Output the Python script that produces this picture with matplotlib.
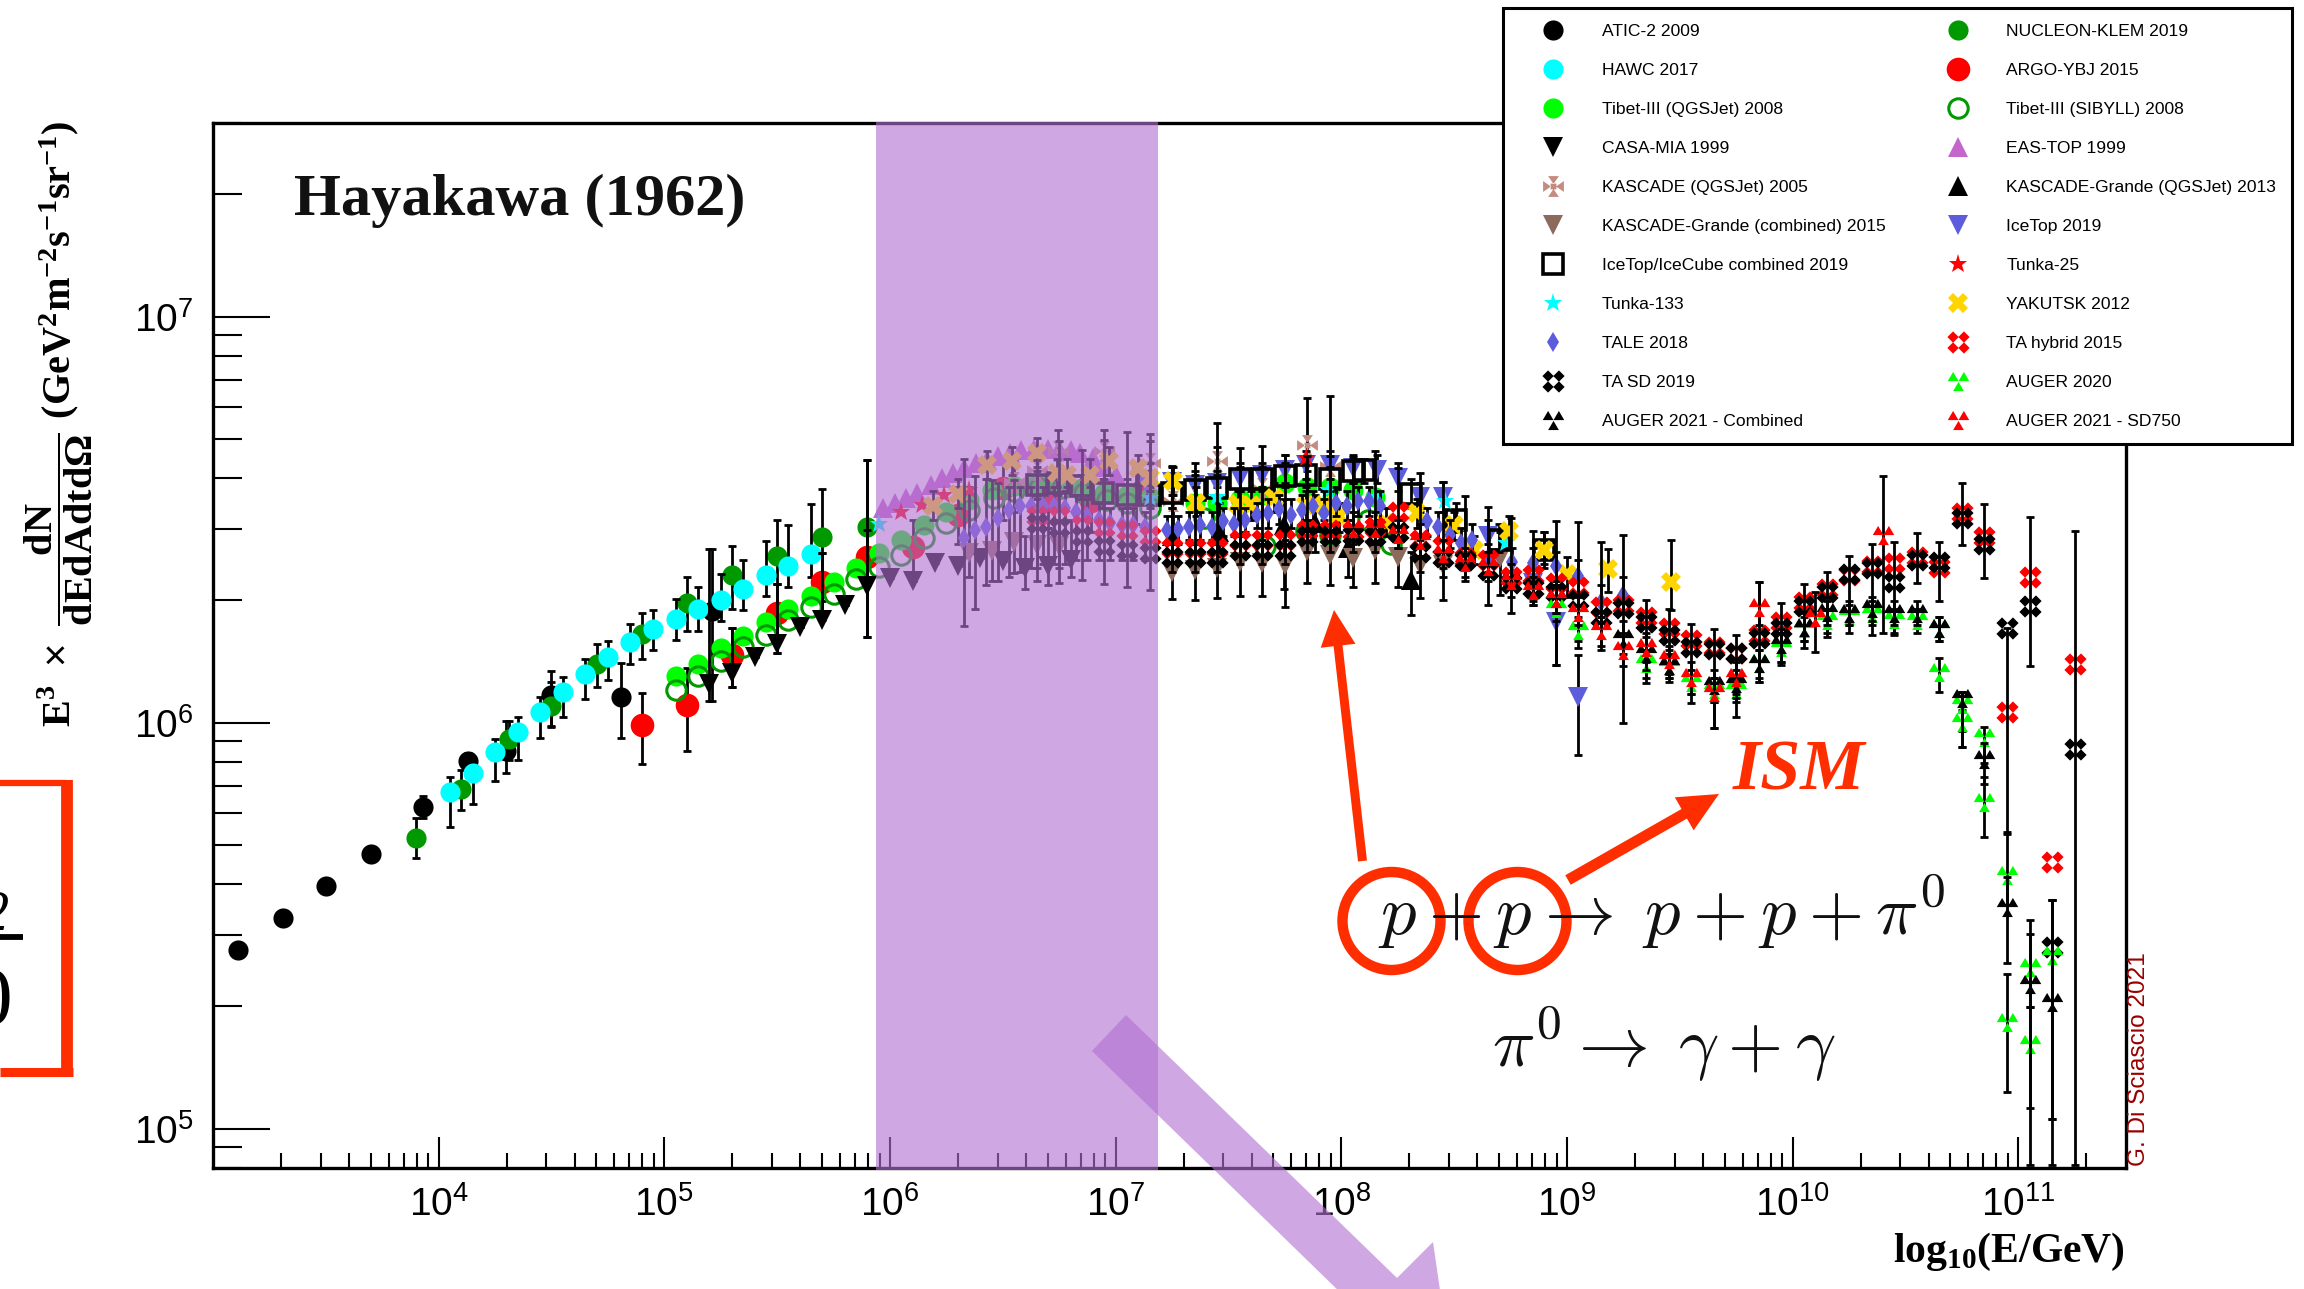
import numpy as np
import matplotlib
matplotlib.use("Agg")
import matplotlib.pyplot as plt
from matplotlib.path import Path
from matplotlib.patches import Rectangle, Ellipse, Polygon, FancyArrow
from matplotlib.ticker import FixedLocator, LogFormatterMathtext, NullFormatter

plt.rcParams['font.family'] = ['Liberation Sans', 'DejaVu Sans']
plt.rcParams['mathtext.fontset'] = 'custom'
plt.rcParams['mathtext.rm'] = 'Liberation Sans'
plt.rcParams['mathtext.it'] = 'Liberation Sans:italic'
plt.rcParams['mathtext.bf'] = 'Liberation Serif:bold'

# ---------- data: log10(E/GeV), log10(flux), log10(lower), log10(upper) ----------
atic_E = [3.11, 3.31, 3.50, 3.70, 3.93, 4.13, 4.30, 4.50, 4.81, 5.21]
atic_F = [5.439, 5.519, 5.598, 5.677, 5.793, 5.906, 5.931, 6.068, 6.063, 6.276]
atic_lo = [5.439, 5.519, 5.598, 5.677, 5.766, 5.89, 5.877, 5.993, 5.962, 6.054]
atic_hi = [5.439, 5.519, 5.598, 5.677, 5.82, 5.925, 6.005, 6.127, 6.146, 6.427]

nucleon_E = [3.90, 4.10, 4.31, 4.50, 4.70, 4.90, 5.10, 5.30, 5.50, 5.70, 5.90]
nucleon_F = [5.717, 5.837, 5.96, 6.042, 6.144, 6.219, 6.296, 6.363, 6.41, 6.457, 6.481]
nucleon_lo = [5.667, 5.785, 5.907, 5.99, 6.087, 6.158, 6.226, 6.28, 6.342, 6.299, 6.21]
nucleon_hi = [5.764, 5.884, 6.005, 6.10, 6.193, 6.271, 6.359, 6.436, 6.499, 6.575, 6.647]

hawc_E = [4.05, 4.15, 4.25, 4.35, 4.45, 4.55, 4.65, 4.75, 4.85, 4.95, 5.05, 5.15, 5.25, 5.35, 5.45, 5.55, 5.65]
hawc_F = [5.83, 5.877, 5.928, 5.977, 6.027, 6.076, 6.119, 6.161, 6.199, 6.231, 6.255, 6.279, 6.302, 6.33, 6.363, 6.387, 6.415]
hawc_lo = [5.743, 5.799, 5.856, 5.908, 5.962, 6.014, 6.059, 6.104, 6.144, 6.178, 6.203, 6.227, 6.25, 6.278, 6.311, 6.335, 6.36]
hawc_hi = [5.865, 5.91, 5.96, 6.013, 6.063, 6.113, 6.156, 6.202, 6.243, 6.278, 6.304, 6.335, 6.365, 6.401, 6.447, 6.486, 6.538]

argo_E = [4.90, 5.10, 5.30, 5.50, 5.70, 5.90, 6.10, 6.30, 6.50, 6.70, 6.89, 7.09]
argo_F = [5.995, 6.044, 6.167, 6.271, 6.347, 6.408, 6.432, 6.512, 6.578, 6.55, 6.545, 6.561]
argo_lo = [5.898, 5.931, 6.087, 6.172, 6.266, 6.34, 6.36, 6.44, 6.5, 6.48, 6.47, 6.49]
argo_hi = [6.073, 6.134, 6.233, 6.342, 6.419, 6.474, 6.50, 6.58, 6.64, 6.61, 6.62, 6.63]

tibq_E = [5.05, 5.15, 5.25, 5.35, 5.45, 5.55, 5.65, 5.75, 5.85, 5.95, 6.05, 6.15, 6.25, 6.35, 6.45, 6.55, 6.65, 6.75, 6.85, 6.95, 7.05, 7.15, 7.35, 7.45, 7.55, 7.65, 7.75, 7.85, 7.95, 8.05, 8.15]
tibq_F = [6.115, 6.145, 6.184, 6.214, 6.247, 6.279, 6.313, 6.346, 6.382, 6.417, 6.45, 6.487, 6.52, 6.549, 6.574, 6.584, 6.59, 6.59, 6.578, 6.566, 6.561, 6.557, 6.54, 6.54, 6.55, 6.56, 6.59, 6.58, 6.58, 6.574, 6.557]

tibs_E = [5.05, 5.15, 5.25, 5.35, 5.45, 5.55, 5.65, 5.75, 5.85, 5.95, 6.05, 6.15, 6.25, 6.35, 6.46, 6.55, 6.66, 6.76, 6.86, 6.96, 7.05, 7.15, 7.39, 7.66, 7.845, 7.95, 8.12, 8.22]
tibs_F = [6.08, 6.115, 6.151, 6.186, 6.217, 6.252, 6.285, 6.318, 6.353, 6.384, 6.413, 6.455, 6.492, 6.524, 6.553, 6.57, 6.578, 6.578, 6.566, 6.549, 6.54, 6.53, 6.504, 6.434, 6.471, 6.463, 6.5, 6.44]

casa_E = [5.20, 5.30, 5.40, 5.50, 5.60, 5.70, 5.80, 5.90, 6.00, 6.10, 6.20, 6.30, 6.40, 6.50, 6.60, 6.70, 6.80]
casa_F = [6.095, 6.122, 6.162, 6.195, 6.235, 6.254, 6.29, 6.337, 6.356, 6.35, 6.393, 6.386, 6.405, 6.399, 6.381, 6.385, 6.401]
casa_lo = [6.054, 6.087, 6.162, 6.172, 6.235, 6.254, 6.29, 6.21, 6.356, 6.35, 6.393, 6.386, 6.405, 6.399, 6.33, 6.34, 6.36]
casa_hi = [6.427, 6.233, 6.162, 6.342, 6.235, 6.419, 6.29, 6.647, 6.356, 6.35, 6.393, 6.386, 6.405, 6.399, 6.46, 6.48, 6.50]

eas_E = [5.97, 6.02, 6.07, 6.12, 6.18, 6.23, 6.28, 6.33, 6.38, 6.43, 6.48, 6.53, 6.58, 6.64, 6.70, 6.75, 6.80, 6.84, 6.90, 6.95, 7.00]
eas_F = [6.529, 6.541, 6.553, 6.566, 6.586, 6.603, 6.615, 6.627, 6.64, 6.648, 6.656, 6.664, 6.671, 6.675, 6.675, 6.675, 6.671, 6.664, 6.652, 6.631, 6.611]

kas_E = [6.55, 6.65, 6.745, 6.95, 7.15, 7.255, 7.45, 7.65, 7.85, 7.95]
kas_F = [6.594, 6.623, 6.668, 6.668, 6.64, 6.547, 6.645, 6.578, 6.685, 6.633]
kas_lo = [6.52, 6.55, 6.60, 6.60, 6.58, 6.47, 6.58, 6.52, 6.62, 6.57]
kas_hi = [6.65, 6.68, 6.72, 6.72, 6.71, 6.60, 6.738, 6.63, 6.80, 6.804]

kgq_E = [7.25, 7.46, 7.745, 7.885, 8.03, 8.31]
kgq_F = [6.46, 6.469, 6.487, 6.492, 6.43, 6.352]
kgq_lo = [6.38, 6.40, 6.33, 6.42, 6.36, 6.266]
kgq_hi = [6.53, 6.54, 6.55, 6.56, 6.50, 6.42]

kgc_E = [6.35, 6.45, 6.55, 6.65, 6.75, 7.25, 7.35, 7.45, 7.55, 7.65, 7.75, 7.85, 7.95, 8.05, 8.15, 8.25, 8.35, 8.45, 8.705]
kgc_F = [6.418, 6.422, 6.446, 6.438, 6.436, 6.372, 6.377, 6.381, 6.397, 6.393, 6.389, 6.422, 6.413, 6.405, 6.426, 6.409, 6.389, 6.389, 6.405]
kgc_lo = [6.36, 6.348, 6.368, 6.38, 6.38, 6.304, 6.303, 6.307, 6.311, 6.311, 6.286, 6.344, 6.34, 6.335, 6.344, 6.335, 6.307, 6.303, 6.315]
kgc_hi = [6.58, 6.598, 6.598, 6.50, 6.50, 6.44, 6.44, 6.44, 6.46, 6.45, 6.45, 6.48, 6.47, 6.46, 6.49, 6.47, 6.45, 6.45, 6.47]

ice_E = [7.14, 7.25, 7.35, 7.45, 7.55, 7.65, 7.75, 7.845, 7.95, 8.05, 8.157, 8.25, 8.35, 8.45, 8.65, 8.85, 8.95, 9.05]
ice_F = [6.585, 6.594, 6.586, 6.59, 6.603, 6.611, 6.623, 6.635, 6.635, 6.627, 6.623, 6.603, 6.557, 6.557, 6.459, 6.343, 6.249, 6.064]
ice_lo = [6.55, 6.56, 6.55, 6.56, 6.57, 6.58, 6.59, 6.60, 6.60, 6.59, 6.59, 6.57, 6.52, 6.52, 6.42, 6.30, 6.142, 5.92]
ice_hi = [6.62, 6.63, 6.62, 6.62, 6.64, 6.64, 6.66, 6.67, 6.67, 6.66, 6.66, 6.64, 6.59, 6.594, 6.50, 6.38, 6.35, 6.167]

icc_E = [6.65, 6.745, 6.845, 6.945, 7.05, 7.15, 7.25, 7.35, 7.45, 7.55, 7.65, 7.75, 7.845, 7.95, 8.05, 8.10, 8.31, 8.51, 8.70, 8.90]
icc_F = [6.586, 6.59, 6.582, 6.565, 6.561, 6.56, 6.565, 6.574, 6.578, 6.60, 6.60, 6.607, 6.61, 6.60, 6.619, 6.623, 6.564, 6.50, 6.45, 6.426]
icc_lo = [6.56, 6.56, 6.55, 6.53, 6.53, 6.53, 6.53, 6.54, 6.55, 6.57, 6.57, 6.58, 6.58, 6.57, 6.59, 6.59, 6.53, 6.47, 6.42, 6.39]
icc_hi = [6.62, 6.62, 6.61, 6.60, 6.60, 6.59, 6.60, 6.61, 6.61, 6.63, 6.63, 6.64, 6.64, 6.63, 6.65, 6.65, 6.60, 6.54, 6.49, 6.47]

t25_E = [6.05, 6.14, 6.24, 6.35, 7.845]
t25_F = [6.52, 6.537, 6.561, 6.574, 6.652]

t133_E = [5.95, 7.15, 7.45, 7.94, 8.15, 8.46, 8.73]
t133_F = [6.489, 6.553, 6.556, 6.572, 6.556, 6.545, 6.442]

yak_E = [6.19, 6.30, 6.43, 6.54, 6.65, 6.74, 6.785, 6.885, 6.97, 7.10, 7.15, 7.255, 7.355, 7.54, 7.60, 7.70, 7.845, 7.925, 7.99, 8.20, 8.335, 8.50, 8.59, 8.745, 8.90, 9.00, 9.18, 9.46]
yak_F = [6.534, 6.564, 6.635, 6.644, 6.664, 6.615, 6.611, 6.611, 6.644, 6.627, 6.603, 6.596, 6.541, 6.539, 6.537, 6.553, 6.537, 6.537, 6.508, 6.492, 6.516, 6.487, 6.426, 6.471, 6.426, 6.366, 6.379, 6.347]
yak_lo = [6.50, 6.53, 6.60, 6.61, 6.63, 6.58, 6.58, 6.58, 6.61, 6.59, 6.57, 6.56, 6.51, 6.50, 6.50, 6.52, 6.50, 6.50, 6.47, 6.46, 6.48, 6.45, 6.39, 6.43, 6.38, 6.31, 6.323, 6.278]
yak_hi = [6.57, 6.60, 6.67, 6.68, 6.70, 6.65, 6.65, 6.65, 6.68, 6.66, 6.64, 6.63, 6.58, 6.57, 6.57, 6.59, 6.57, 6.57, 6.54, 6.53, 6.55, 6.52, 6.46, 6.51, 6.47, 6.409, 6.427, 6.45]

tale_E = [6.326, 6.375, 6.427, 6.478, 6.528, 6.577, 6.627, 6.677, 6.727, 6.776, 6.825, 6.875, 6.925, 6.974, 7.027, 7.078, 7.13, 7.226, 7.276, 7.325, 7.375, 7.425, 7.474, 7.524, 7.575, 7.626, 7.676, 7.726, 7.775, 7.825, 7.875, 7.925, 7.975, 8.024, 8.073, 8.123, 8.173, 8.38, 8.43, 8.48, 8.53, 8.58, 8.65, 8.755, 8.85, 8.95, 9.05, 9.15, 9.25]
tale_F = [6.455, 6.474, 6.483, 6.504, 6.524, 6.533, 6.533, 6.533, 6.533, 6.529, 6.52, 6.508, 6.5, 6.492, 6.487, 6.487, 6.483, 6.474, 6.477, 6.482, 6.487, 6.482, 6.496, 6.49, 6.5, 6.512, 6.516, 6.526, 6.512, 6.523, 6.533, 6.516, 6.541, 6.533, 6.545, 6.545, 6.533, 6.496, 6.483, 6.463, 6.442, 6.45, 6.405, 6.397, 6.394, 6.386, 6.361, 6.298, 6.314]
tale_lo = [6.237, 6.28, 6.34, 6.35, 6.36, 6.37, 6.38, 6.39, 6.39, 6.39, 6.40, 6.40, 6.40, 6.40, 6.40, 6.40, 6.40, 6.44, 6.44, 6.45, 6.45, 6.45, 6.46, 6.46, 6.47, 6.48, 6.48, 6.49, 6.48, 6.49, 6.50, 6.48, 6.51, 6.50, 6.51, 6.51, 6.50, 6.46, 6.45, 6.43, 6.41, 6.41, 6.37, 6.36, 6.36, 6.35, 6.32, 6.26, 6.27]
tale_hi = [6.649, 6.607, 6.60, 6.59, 6.58, 6.58, 6.58, 6.58, 6.58, 6.57, 6.56, 6.55, 6.54, 6.53, 6.53, 6.53, 6.52, 6.51, 6.51, 6.52, 6.52, 6.52, 6.53, 6.53, 6.53, 6.54, 6.55, 6.56, 6.55, 6.56, 6.57, 6.55, 6.58, 6.57, 6.58, 6.58, 6.57, 6.53, 6.52, 6.50, 6.48, 6.49, 6.44, 6.43, 6.43, 6.42, 6.40, 6.34, 6.36]

tah_E = [6.65, 6.75, 6.85, 6.95, 7.05, 7.15, 7.25, 7.35, 7.45, 7.55, 7.65, 7.75, 7.85, 7.95, 8.05, 8.15, 8.25, 8.35, 8.45, 8.55, 8.65, 8.75, 8.85, 8.95, 9.05, 9.15, 9.25, 9.35, 9.45, 9.55, 9.65, 9.75, 9.85, 9.95, 10.05, 10.15, 10.25, 10.35, 10.45, 10.55, 10.65, 10.75, 10.85, 10.95, 11.05, 11.15, 11.25]
tah_F = [6.508, 6.508, 6.487, 6.483, 6.475, 6.459, 6.43, 6.43, 6.43, 6.45, 6.45, 6.45, 6.475, 6.475, 6.471, 6.483, 6.52, 6.45, 6.434, 6.405, 6.401, 6.36, 6.364, 6.343, 6.335, 6.286, 6.29, 6.261, 6.232, 6.204, 6.187, 6.171, 6.216, 6.249, 6.298, 6.33, 6.364, 6.387, 6.393, 6.407, 6.384, 6.516, 6.457, 6.027, 6.36, 5.657, 6.144]

tas_E = [6.65, 6.75, 6.85, 6.95, 7.05, 7.15, 7.25, 7.35, 7.45, 7.55, 7.65, 7.75, 7.85, 7.95, 8.05, 8.15, 8.25, 8.35, 8.45, 8.55, 8.65, 8.75, 8.85, 8.95, 9.05, 9.15, 9.25, 9.35, 9.45, 9.55, 9.65, 9.75, 9.85, 9.95, 10.05, 10.15, 10.25, 10.35, 10.45, 10.55, 10.65, 10.75, 10.85, 10.95, 11.05, 11.15, 11.25]
tas_F = [6.492, 6.483, 6.459, 6.434, 6.426, 6.418, 6.409, 6.409, 6.409, 6.426, 6.426, 6.426, 6.459, 6.459, 6.463, 6.459, 6.47, 6.42, 6.409, 6.401, 6.377, 6.344, 6.331, 6.323, 6.302, 6.261, 6.282, 6.249, 6.216, 6.187, 6.181, 6.171, 6.208, 6.232, 6.288, 6.323, 6.366, 6.382, 6.347, 6.401, 6.397, 6.505, 6.44, 6.234, 6.288, 5.447, 5.936]
tas_lo = [6.348, 6.344, 6.352, 6.342, 6.335, 6.326, 6.37, 6.37, 6.37, 6.39, 6.39, 6.39, 6.42, 6.42, 6.42, 6.42, 6.43, 6.37, 6.36, 6.35, 6.29, 6.27, 6.29, 6.142, 6.183, 6.179, 6.0, 6.097, 6.11, 6.049, 5.986, 6.015, 6.101, 6.142, 6.183, 6.212, 6.22, 6.216, 6.216, 6.343, 6.30, 6.438, 6.356, 5.727, 6.139, 5.024, 4.91]
tas_hi = [6.648, 6.693, 6.672, 6.697, 6.715, 6.695, 6.633, 6.64, 6.68, 6.677, 6.682, 6.66, 6.656, 6.656, 6.654, 6.668, 6.627, 6.615, 6.594, 6.559, 6.531, 6.504, 6.471, 6.498, 6.495, 6.444, 6.462, 6.302, 6.279, 6.243, 6.23, 6.216, 6.346, 6.294, 6.342, 6.37, 6.411, 6.44, 6.444, 6.467, 6.444, 6.591, 6.538, 6.234, 6.506, 5.562, 6.471]

aug20_E = [8.95, 9.05, 9.35, 9.45, 9.55, 9.65, 9.75, 9.85, 9.95, 10.05, 10.15, 10.25, 10.35, 10.45, 10.55, 10.65, 10.65, 10.75, 10.75, 10.85, 10.85, 10.95, 10.95, 11.05, 11.05, 11.15]
aug20_F = [6.282, 6.228, 6.146, 6.14, 6.1, 6.084, 6.084, 6.146, 6.187, 6.232, 6.253, 6.265, 6.27, 6.255, 6.253, 6.232, 6.126, 6.047, 6.002, 5.965, 5.805, 5.624, 5.262, 5.398, 5.209, 5.427]
aug20_lo = [6.25, 6.20, 6.11, 6.11, 6.07, 6.05, 6.05, 6.11, 6.15, 6.20, 6.22, 6.24, 6.24, 6.22, 6.22, 6.20, 6.076, 5.98, 5.941, 5.90, 5.718, 5.55, 5.09, 5.30, 4.91, 4.91]
aug20_hi = [6.31, 6.26, 6.18, 6.17, 6.13, 6.11, 6.11, 6.18, 6.22, 6.26, 6.28, 6.29, 6.30, 6.28, 6.28, 6.26, 6.16, 6.076, 6.03, 5.99, 5.866, 5.73, 5.381, 5.48, 5.30, 5.562]

aug21_E = [8.95, 9.25, 9.35, 9.45, 9.65, 9.75, 9.85, 9.95, 10.05, 10.15, 10.25, 10.35, 10.45, 10.55, 10.65, 10.75, 10.85, 10.95, 11.05, 11.15]
aug21_F = [6.306, 6.208, 6.171, 6.142, 6.093, 6.097, 6.146, 6.195, 6.235, 6.273, 6.271, 6.282, 6.269, 6.269, 6.232, 6.062, 5.911, 5.546, 5.357, 5.312]
aug21_lo = [6.27, 6.17, 6.13, 6.10, 6.05, 6.06, 6.10, 6.15, 6.20, 6.24, 6.24, 6.25, 6.24, 6.24, 6.20, 5.941, 5.85, 5.408, 5.05, 5.024]
aug21_hi = [6.34, 6.25, 6.21, 6.18, 6.13, 6.13, 6.18, 6.23, 6.27, 6.30, 6.30, 6.31, 6.30, 6.30, 6.26, 6.076, 5.95, 5.62, 5.514, 5.562]

sd750_E = [8.05, 8.15, 8.25, 8.35, 8.45, 8.55, 8.65, 8.75, 8.85, 8.95, 9.05, 9.15, 9.25, 9.35, 9.45, 9.55, 9.65, 9.75, 9.85, 10.10, 10.40]
sd750_F = [6.48, 6.48, 6.465, 6.45, 6.418, 6.397, 6.385, 6.351, 6.327, 6.306, 6.273, 6.228, 6.179, 6.187, 6.158, 6.113, 6.076, 6.113, 6.286, 6.261, 6.462]
sd750_lo = [6.44, 6.44, 6.43, 6.41, 6.38, 6.36, 6.35, 6.31, 6.29, 6.27, 6.24, 6.19, 6.14, 6.15, 6.12, 6.07, 5.986, 6.07, 6.24, 6.175, 6.22]
sd750_hi = [6.52, 6.52, 6.50, 6.49, 6.45, 6.43, 6.42, 6.39, 6.36, 6.34, 6.31, 6.26, 6.22, 6.22, 6.19, 6.15, 6.11, 6.15, 6.346, 6.321, 6.608]

x_major = [1e4, 1e5, 1e6, 1e7, 1e8, 1e9, 1e10, 1e11]
y_major = [1e5, 1e6, 1e7]

# ---------- marker shapes ----------
def multi(polys):
    v, c = [], []
    for p in polys:
        v += list(p) + [p[0]]
        c += [Path.MOVETO] + [Path.LINETO] * (len(p) - 1) + [Path.CLOSEPOLY]
    return Path(v, c)

def dia(cx, cy, w=0.27, h=0.27):
    return [(cx - w, cy), (cx, cy - h), (cx + w, cy), (cx, cy + h)]

def tri(cx, cy, w=0.27, h=0.46):
    return [(cx - w, cy - h / 2), (cx + w, cy - h / 2), (cx, cy + h / 2)]

FOUR = multi([dia(-.26, .26), dia(.26, .26), dia(-.26, -.26), dia(.26, -.26)])
THREE = multi([tri(-.27, .25), tri(.27, .25), tri(0, -.25)])
IRON = multi([[(-.12, 0), (-.5, -.26), (-.5, .26)], [(.12, 0), (.5, -.26), (.5, .26)],
              [(0, -.12), (-.26, -.5), (.26, -.5)], [(0, .12), (-.26, .5), (.26, .5)],
              [(-.14, -.14), (.14, -.14), (.14, .14), (-.14, .14)]])

BLUE = '#5C5CDD'
LIME = '#00FF00'
GREEN = '#009900'
FULL = dict(mew=0)
# drawing order is the legend read row by row
SERIES = [
    ('ATIC-2 2009', atic_E, atic_F, atic_lo, atic_hi, dict(marker='o', ms=14.5, color='k', **FULL)),
    ('NUCLEON-KLEM 2019', nucleon_E, nucleon_F, nucleon_lo, nucleon_hi, dict(marker='o', ms=14.5, color=GREEN, **FULL)),
    ('HAWC 2017', hawc_E, hawc_F, hawc_lo, hawc_hi, dict(marker='o', ms=14.5, color='#00FFFF', **FULL)),
    ('ARGO-YBJ 2015', argo_E, argo_F, argo_lo, argo_hi, dict(marker='o', ms=17, color='#FF0000', **FULL)),
    ('Tibet-III (QGSJet) 2008', tibq_E, tibq_F, None, None, dict(marker='o', ms=14.5, color=LIME, **FULL)),
    ('Tibet-III (SIBYLL) 2008', tibs_E, tibs_F, None, None, dict(marker='o', ms=14, mfc='none', mec=GREEN, mew=2.2, color=GREEN)),
    ('CASA-MIA 1999', casa_E, casa_F, casa_lo, casa_hi, dict(marker='v', ms=14, color='k', **FULL)),
    ('EAS-TOP 1999', eas_E, eas_F, None, None, dict(marker='^', ms=14, color='#C466CC', **FULL)),
    ('KASCADE (QGSJet) 2005', kas_E, kas_F, kas_lo, kas_hi, dict(marker=IRON, ms=15, color='#C48C80', **FULL)),
    ('KASCADE-Grande (QGSJet) 2013', kgq_E, kgq_F, kgq_lo, kgq_hi, dict(marker='^', ms=14, color='k', **FULL)),
    ('KASCADE-Grande (combined) 2015', kgc_E, kgc_F, kgc_lo, kgc_hi, dict(marker='v', ms=14, color='#8C6B5C', **FULL)),
    ('IceTop 2019', ice_E, ice_F, ice_lo, ice_hi, dict(marker='v', ms=14, color=BLUE, **FULL)),
    ('IceTop/IceCube combined 2019', icc_E, icc_F, icc_lo, icc_hi, dict(marker='s', ms=14, mfc='none', mec='k', mew=2.6, color='k')),
    ('Tunka-25', t25_E, t25_F, None, None, dict(marker='*', ms=14, color='#FF0000', **FULL)),
    ('Tunka-133', t133_E, t133_F, None, None, dict(marker='*', ms=14, color='#00FFFF', **FULL)),
    ('YAKUTSK 2012', yak_E, yak_F, yak_lo, yak_hi, dict(marker='X', ms=15, color='#FFD500', **FULL)),
    ('TALE 2018', tale_E, tale_F, tale_lo, tale_hi, dict(marker='d', ms=10.5, color=BLUE, **FULL)),
    ('TA hybrid 2015', tah_E, tah_F, None, None, dict(marker=FOUR, ms=16, color='#FF0000', **FULL)),
    ('TA SD 2019', tas_E, tas_F, tas_lo, tas_hi, dict(marker=FOUR, ms=16, color='k', **FULL)),
    ('AUGER 2020', aug20_E, aug20_F, aug20_lo, aug20_hi, dict(marker=THREE, ms=15.5, color=LIME, **FULL)),
    ('AUGER 2021 - Combined', aug21_E, aug21_F, aug21_lo, aug21_hi, dict(marker=THREE, ms=15.5, color='k', **FULL)),
    ('AUGER 2021 - SD750', sd750_E, sd750_F, sd750_lo, sd750_hi, dict(marker=THREE, ms=15.5, color='#FF0000', **FULL)),
]
LEFT_COL = ['ATIC-2 2009', 'HAWC 2017', 'Tibet-III (QGSJet) 2008', 'CASA-MIA 1999', 'KASCADE (QGSJet) 2005',
            'KASCADE-Grande (combined) 2015', 'IceTop/IceCube combined 2019', 'Tunka-133', 'TALE 2018',
            'TA SD 2019', 'AUGER 2021 - Combined']
RIGHT_COL = ['NUCLEON-KLEM 2019', 'ARGO-YBJ 2015', 'Tibet-III (SIBYLL) 2008', 'EAS-TOP 1999',
             'KASCADE-Grande (QGSJet) 2013', 'IceTop 2019', 'Tunka-25', 'YAKUTSK 2012', 'TA hybrid 2015',
             'AUGER 2020', 'AUGER 2021 - SD750']

W, H = 2304, 1289
fig = plt.figure(figsize=(W / 100, H / 100), dpi=100, facecolor='white')
ax = fig.add_axes([213 / W, 1 - 1168 / H, 1913 / W, 1045 / H])
ax.set_xscale('log')
ax.set_yscale('log')

handles = {}
for name, E, F, lo, hi, style in SERIES:
    x = 10 ** np.array(E)
    y = 10 ** np.array(F)
    if lo is not None:
        yerr = [np.clip(y - 10 ** np.array(lo), 0, None), np.clip(10 ** np.array(hi) - y, 0, None)]
        ax.errorbar(x, y, yerr=yerr, fmt='none', ecolor='k', elinewidth=2.0, capsize=2.6, capthick=2.0)
    h, = ax.plot(x, y, linestyle='none', label=name, **style)
    handles[name] = h

ax.set_xlim(1e3, 3e11)
ax.set_ylim(8e4, 3e7)
ax.xaxis.set_major_locator(FixedLocator(x_major))
ax.yaxis.set_major_locator(FixedLocator(y_major))
ax.xaxis.set_major_formatter(LogFormatterMathtext())
ax.yaxis.set_major_formatter(LogFormatterMathtext())
ax.xaxis.set_minor_locator(FixedLocator([m * 10 ** d for d in range(3, 12) for m in range(2, 10)]))
ax.yaxis.set_minor_locator(FixedLocator([m * 10 ** d for d in range(4, 8) for m in range(2, 10)]))
ax.xaxis.set_minor_formatter(NullFormatter())
ax.yaxis.set_minor_formatter(NullFormatter())
ax.tick_params(axis='x', which='major', direction='in', length=22, width=1.5, labelsize=28, pad=13)
ax.tick_params(axis='x', which='minor', direction='in', length=11, width=1.5)
ax.tick_params(axis='y', which='major', direction='in', length=41, width=1.5, labelsize=28, pad=14)
ax.tick_params(axis='y', which='minor', direction='in', length=21, width=1.5)
for s in ax.spines.values():
    s.set_linewidth(2.4)

# ---------- legend ----------
order = LEFT_COL + RIGHT_COL
leg = fig.legend([handles[n] for n in order], order, ncols=2, loc='upper left',
                 bbox_to_anchor=(1503 / W, 1 - 8 / H), bbox_transform=fig.transFigure,
                 fontsize=12.6, frameon=True, fancybox=False, framealpha=1, edgecolor='k',
                 borderaxespad=0, borderpad=0.9, labelspacing=1.355, handlelength=3.9,
                 handletextpad=0.84, columnspacing=2.17, numpoints=1)
leg.get_frame().set_linewidth(2.2)
leg.set_zorder(20)

# ---------- annotations, in figure pixels ----------
ov = fig.add_axes([0, 0, 1, 1], zorder=5)
ov.set_xlim(0, W)
ov.set_ylim(H, 0)
ov.axis('off')
ov.patch.set_alpha(0)

PURPLE = '#B171D2'
RED = '#FF2E00'
ov.add_patch(Rectangle((875.5, 122), 282, 1048, fc=PURPLE, ec='none', alpha=0.62))
ov.add_patch(Polygon([(1126, 1015), (1397, 1278), (1433, 1242), (1451, 1366), (1326.5, 1350),
                      (1362.5, 1314), (1092, 1051)], closed=True, fc=PURPLE, ec='none', alpha=0.62, clip_on=True))

ov.text(294, 201, 'Hayakawa (1962)', family='Liberation Serif', weight='bold', fontsize=43.5,
        ha='left', va='center', color='#111111')
ov.text(1378, 935, r'$p + p \rightarrow\; p + p + \pi^{0}$', math_fontfamily='cm', fontsize=51,
        ha='left', va='baseline', color='#111111')
ov.text(1492, 1067, r'$\pi^{0} \rightarrow\; \gamma + \gamma$', math_fontfamily='cm', fontsize=51,
        ha='left', va='baseline', color='#111111')
ov.text(1733, 789, 'ISM', family='Liberation Serif', weight='bold', style='italic', fontsize=52,
        ha='left', va='baseline', color=RED)
for cx in (1391.5, 1517.5):
    ov.add_patch(Ellipse((cx, 921), 98, 98, fc='none', ec=RED, lw=7.5))
ov.add_patch(FancyArrow(1362.5, 861, -28.5, -251, width=9, head_width=35, head_length=36,
                        length_includes_head=True, fc=RED, ec='none'))
ov.add_patch(FancyArrow(1568, 880, 151, -86, width=11, head_width=38, head_length=40,
                        length_includes_head=True, fc=RED, ec='none'))

# cut-off red box at the left edge
ov.plot([0, 67], [783, 783], color=RED, lw=4.5, solid_capstyle='butt')
ov.plot([0, 73], [1072, 1072], color=RED, lw=6.5, solid_capstyle='butt')
ov.plot([67, 67], [780, 1076], color=RED, lw=8.5, solid_capstyle='butt')
ov.plot([0, 23], [937, 937], color='k', lw=4.2, solid_capstyle='butt')
ov.text(9, 930, '2', family='Liberation Serif', style='italic', fontsize=42, ha='right', va='baseline', color='k')
ov.text(12, 1024, '0', family='Liberation Serif', fontsize=60, ha='right', va='baseline', color='k')

ov.text(2139, 1166, 'G. Di Sciascio 2021', rotation=90, fontsize=17.6, color='#990000', ha='center', va='bottom')
ov.text(2125, 1252, r'$\mathbf{log}_{\mathbf{10}}\mathbf{(E/GeV)}$', fontsize=30, ha='right', va='center', color='k')
ov.text(59, 424, r'$\mathbf{E}^{\mathbf{3}}\ \times\ \dfrac{\mathbf{dN}}{\mathbf{dEdAdtd\Omega}}\ \mathbf{(GeV^{2}m^{-2}s^{-1}sr^{-1})}$',
        rotation=90, fontsize=29, ha='center', va='center', color='k')

fig.savefig('out.png', dpi=100)
